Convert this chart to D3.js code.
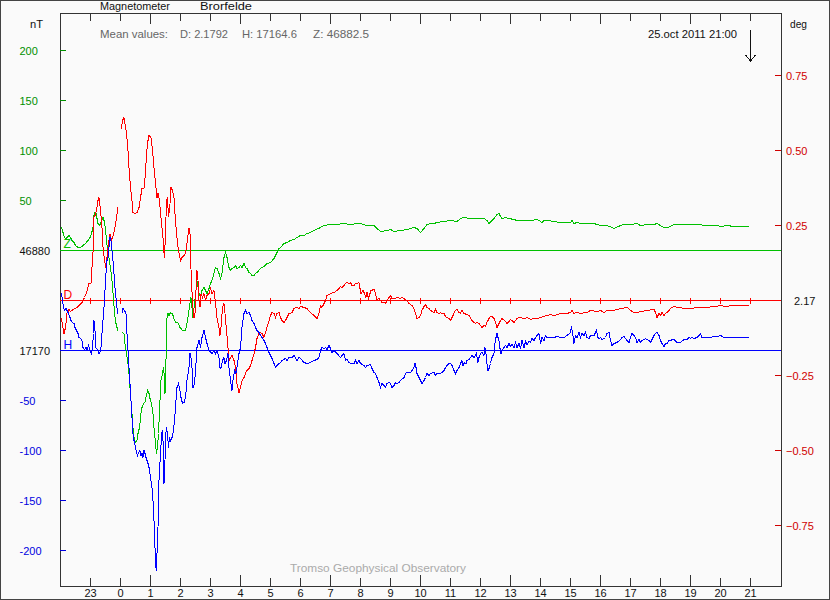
<!DOCTYPE html>
<html><head><meta charset="utf-8">
<script src="https://cdn.jsdelivr.net/npm/d3@7"></script>
<style>
html,body{margin:0;padding:0;background:#fafafa;}
svg{display:block;}
text{font-family:"Liberation Sans",Arial,sans-serif;}
</style></head><body>
<svg id="chart" width="830" height="600"></svg>
<script>
// ---------- data ----------
const station = "Brorfelde";
const instrument = "Magnetometer";
const startTime = Date.UTC(2011, 9, 24, 22, 0);   // 24 Oct 2011 22:00 UT
const endLabel = "25.oct 2011 21:00";
const meanD = "2.1792", meanH = "17164.6", meanZ = "46882.5";
const zBase = 46880, dBase = 2.17, hBase = 17170;
const zTicks = [200, 150, 100, 50];          // nT relative to Z baseline
const hTicks = [-50, -100, -150, -200];      // nT relative to H baseline
const degTicks = [0.75, 0.5, 0.25, -0.25, -0.5, -0.75];
const hourTickLabels = ["23","0","1","2","3","4","5","6","7","8","9","10","11","12","13","14","15","16","17","18","19","20","21"];

// [minutes after start, value]
const declination = [[2,2.110],[7,2.060],[10,2.080],[13,2.127],[17,2.140],[20,2.133],[25,2.140],[30,2.143],[37,2.153],[43,2.163],[48,2.180],[52,2.197],[57,2.227],[61,2.227],[63,2.280],[65,2.330],[67,2.447],[69,2.453],[72,2.470],[75,2.503],[77,2.513],[80,2.470],[83,2.413],[85,2.347],[88,2.303],[91,2.277],[93,2.313],[96,2.360],[99,2.393],[101,2.370],[104,2.380],[108,2.403],[112,2.447],[115,2.480],[118,null],
[122,2.743],[124,2.770],[127,2.780],[129,2.760],[132,2.727],[135,2.670],[137,2.613],[140,2.547],[143,2.503],[145,2.463],[149,2.460],[153,2.463],[157,2.480],[160,2.513],[163,2.543],[167,2.543],[170,2.593],[172,2.660],[175,2.703],[177,2.720],[181,2.713],[184,2.670],[187,2.613],[190,2.560],[193,2.513],[195,2.527],[198,2.503],[200,2.460],[203,2.413],[205,2.380],[207,2.327],[208,2.313],[210,2.393],[212,2.503],[214,2.513],[216,2.447],[219,2.493],[221,2.547],[224,2.537],[227,2.513],[229,2.460],[232,2.393],[235,2.347],[237,2.327],[240,2.303],[243,2.313],[247,2.320],[250,2.327],[253,2.360],[257,2.413],[259,2.393],[260,2.313],[262,2.237],[264,2.160],[267,2.113],[269,2.127],[271,2.203],[273,2.270],[275,2.237],[277,2.170],[279,2.147],[281,2.193],[284,2.180],[287,2.193],[290,2.170],[293,2.187],[297,2.193],[300,2.210],[303,2.193],[307,2.203],[310,2.160],[313,2.113],[317,2.080],[319,2.053],[321,2.080],[324,2.147],[327,2.160],[329,2.127],[332,2.070],[335,2.013],[337,1.970],[340,1.980],[343,1.987],[347,1.970],[350,1.947],[353,1.893],[357,1.863],[360,1.880],[363,1.903],[367,1.913],[370,1.927],[373,1.937],[377,1.943],[380,1.953],[383,1.970],[387,1.993],[390,2.013],[393,2.043],[397,2.060],[400,2.063],[403,2.060],[407,2.047],[410,2.063],[413,2.080],[417,2.103],[420,2.120],[423,2.130],[427,2.127],[430,2.113],[433,2.127],[437,2.130],[440,2.113],[443,2.103],[447,2.097],[450,2.103],[453,2.113],[457,2.127],[460,2.127],[463,2.130],[467,2.143],[470,2.147],[473,2.147],[477,2.143],[480,2.150],[487,2.147],[493,2.143],[500,2.130],[507,2.120],[513,2.110],[517,2.127],[520,2.153],[523,2.147],[527,2.160],[530,2.170],[533,2.187],[540,2.193],[547,2.197],[553,2.203],[557,2.210],[560,2.217],[563,2.213],[567,2.220],[570,2.227],[573,2.230],[577,2.227],[580,2.230],[583,2.220],[587,2.220],[590,2.227],[593,2.227],[597,2.230],[599,2.210],[601,2.193],[605,2.203],[608,2.193],[611,2.180],[613,2.197],[616,2.177],[619,2.193],[621,2.203],[627,2.207],[630,2.193],[633,2.173],[637,2.177],[640,2.170],[643,2.163],[647,2.163],[650,2.160],[657,2.180],[660,2.187],[663,2.177],[670,2.177],[673,2.180],[680,2.177],[683,2.180],[693,2.170],[697,2.160],[703,2.153],[707,2.143],[710,2.127],[713,2.110],[717,2.113],[720,2.120],[723,2.137],[727,2.150],[730,2.157],[733,2.147],[737,2.143],[740,2.137],[747,2.130],[750,2.140],[753,2.130],[757,2.127],[760,2.130],[763,2.127],[767,2.127],[770,2.117],[773,2.113],[777,2.110],[780,2.103],[783,2.113],[787,2.127],[790,2.137],[793,2.140],[797,2.130],[800,2.127],[803,2.137],[807,2.127],[813,2.123],[817,2.120],[820,2.113],[823,2.103],[827,2.097],[830,2.093],[833,2.097],[837,2.093],[840,2.087],[843,2.080],[847,2.087],[850,2.083],[853,2.097],[857,2.110],[860,2.117],[863,2.117],[867,2.110],[870,2.097],[873,2.080],[877,2.093],[880,2.103],[883,2.110],[890,2.100],[893,2.093],[897,2.100],[900,2.107],[907,2.097],[910,2.103],[913,2.110],[917,2.113],[920,2.113],[927,2.110],[933,2.113],[940,2.107],[947,2.110],[953,2.110],[960,2.113],[967,2.117],[973,2.120],[980,2.123],[987,2.120],[993,2.123],[1000,2.127],[1013,2.127],[1020,2.130],[1023,2.137],[1027,2.127],[1033,2.130],[1040,2.127],[1053,2.130],[1060,2.137],[1073,2.133],[1080,2.137],[1087,2.130],[1093,2.137],[1107,2.137],[1113,2.140],[1120,2.143],[1133,2.147],[1140,2.137],[1147,2.130],[1153,2.130],[1160,2.133],[1173,2.137],[1187,2.140],[1190,2.130],[1193,2.113],[1197,2.127],[1200,2.120],[1203,2.130],[1207,2.120],[1210,2.127],[1213,2.130],[1217,2.137],[1220,2.143],[1223,2.147],[1227,2.150],[1233,2.147],[1240,2.147],[1247,2.143],[1260,2.143],[1273,2.147],[1280,2.147],[1293,2.147],[1307,2.150],[1320,2.153],[1333,2.150],[1340,2.153],[1360,2.153],[1377,2.153]];

const horizontal = [[2,17227],[4,17220],[6,17213],[8,17210],[11,17212],[13,17210],[16,17207],[19,17203],[21,17200],[24,17198],[27,17197],[29,17193],[32,17190],[35,17187],[37,17183],[40,17182],[43,17180],[45,17173],[48,17171],[51,17173],[53,17170],[56,17175],[58,17172],[60,17169],[62,17167],[64,17173],[66,17187],[67,17200],[69,17190],[70,17173],[72,17172],[75,17170],[77,17167],[79,17168],[81,17173],[83,17187],[85,17200],[87,17213],[89,17230],[91,17247],[93,17260],[95,17263],[97,17273],[99,17283],[101,17280],[103,17270],[105,17260],[107,17247],[109,17233],[111,17223],[113,17213],[115,17207],[118,null],
[123,17207],[125,17212],[128,17210],[131,17207],[132,17200],[133,17187],[135,17170],[137,17153],[139,17137],[141,17120],[143,17103],[145,17087],[147,17080],[150,17073],[152,17068],[154,17065],[156,17068],[159,17070],[161,17065],[163,17067],[165,17063],[167,17070],[169,17067],[171,17063],[173,17060],[175,17057],[177,17053],[179,17047],[181,17040],[183,17033],[185,17020],[187,17000],[189,16973],[191,16953],[192,16950],[193,16967],[195,16993],[196,17027],[198,17053],[200,17063],[202,17087],[204,17090],[206,17070],[207,17037],[209,17060],[210,17083],[212,17093],[214,17087],[216,17073],[218,17083],[220,17080],[223,17083],[225,17087],[228,17100],[231,17120],[233,17133],[236,17137],[239,17130],[241,17123],[244,17117],[247,17118],[250,17123],[253,17140],[257,17153],[259,17167],[261,17163],[263,17153],[265,17133],[268,17137],[271,17157],[273,17173],[277,17180],[280,17173],[283,17183],[287,17190],[290,17183],[293,17177],[297,17170],[303,17167],[307,17170],[310,17167],[313,17170],[317,17163],[319,17153],[321,17152],[324,17160],[327,17163],[329,17157],[332,17160],[335,17167],[337,17153],[340,17140],[343,17130],[345,17140],[348,17150],[351,17147],[353,17153],[357,17167],[360,17173],[363,17193],[367,17207],[370,17210],[373,17207],[377,17208],[380,17205],[383,17200],[387,17197],[390,17193],[393,17190],[397,17188],[400,17185],[403,17183],[407,17180],[410,17177],[413,17173],[417,17168],[420,17165],[423,17162],[427,17157],[430,17153],[433,17155],[437,17157],[440,17158],[443,17160],[450,17162],[453,17160],[457,17163],[463,17163],[467,17165],[473,17160],[477,17163],[480,17162],[487,17158],[493,17157],[500,17158],[507,17160],[513,17161],[517,17163],[520,17170],[523,17173],[527,17172],[530,17173],[533,17171],[537,17175],[540,17172],[543,17168],[547,17170],[553,17167],[560,17163],[563,17165],[567,17167],[570,17160],[573,17161],[577,17158],[580,17157],[587,17157],[590,17160],[593,17157],[597,17160],[600,17157],[607,17155],[610,17153],[613,17155],[620,17156],[623,17152],[627,17148],[630,17147],[633,17143],[637,17138],[640,17133],[643,17137],[647,17135],[650,17133],[653,17137],[657,17138],[660,17137],[663,17133],[667,17135],[670,17138],[673,17137],[677,17138],[680,17140],[687,17143],[690,17147],[693,17148],[700,17148],[703,17150],[707,17153],[709,17157],[711,17153],[713,17147],[717,17143],[720,17140],[723,17137],[727,17140],[730,17143],[733,17147],[737,17145],[740,17147],[747,17148],[750,17145],[753,17147],[760,17147],[763,17148],[767,17150],[770,17153],[773,17155],[777,17157],[780,17157],[783,17155],[787,17150],[790,17147],[793,17150],[797,17153],[800,17157],[803,17160],[805,17155],[808,17158],[811,17157],[813,17160],[817,17161],[820,17163],[823,17165],[827,17163],[830,17165],[832,17167],[835,17158],[837,17163],[840,17167],[843,17168],[847,17165],[849,17173],[851,17167],[853,17157],[855,17150],[857,17152],[860,17157],[863,17163],[867,17167],[869,17177],[871,17183],[873,17187],[875,17183],[877,17180],[879,17172],[881,17167],[883,17170],[887,17173],[890,17175],[893,17173],[897,17177],[900,17174],[903,17176],[907,17173],[910,17178],[913,17173],[917,17177],[920,17172],[923,17180],[927,17173],[930,17179],[933,17176],[937,17179],[940,17178],[943,17182],[947,17180],[950,17183],[953,17185],[957,17187],[960,17177],[963,17183],[967,17180],[970,17185],[973,17183],[980,17183],[987,17183],[993,17184],[1000,17183],[1007,17183],[1013,17185],[1020,17188],[1022,17194],[1024,17188],[1027,17177],[1030,17185],[1033,17183],[1037,17188],[1040,17183],[1043,17187],[1047,17185],[1050,17188],[1053,17183],[1057,17182],[1060,17185],[1067,17185],[1070,17188],[1072,17190],[1075,17183],[1077,17182],[1080,17183],[1083,17181],[1087,17182],[1090,17183],[1093,17187],[1097,17188],[1100,17180],[1103,17175],[1107,17177],[1113,17178],[1120,17181],[1123,17183],[1127,17184],[1133,17180],[1137,17178],[1140,17183],[1143,17187],[1147,17185],[1150,17183],[1153,17178],[1157,17181],[1160,17178],[1163,17180],[1167,17181],[1170,17182],[1173,17181],[1177,17180],[1180,17178],[1183,17181],[1187,17185],[1190,17187],[1193,17188],[1197,17185],[1200,17180],[1203,17177],[1207,17174],[1210,17177],[1213,17177],[1217,17180],[1227,17181],[1233,17178],[1240,17178],[1247,17181],[1253,17181],[1257,17183],[1260,17182],[1263,17183],[1267,17182],[1273,17183],[1277,17185],[1280,17187],[1283,17183],[1287,17183],[1300,17183],[1307,17184],[1313,17184],[1320,17185],[1327,17183],[1340,17183],[1360,17183],[1377,17183]];

const vertical = [[2,46903],[5,46898],[8,46893],[11,46892],[13,46893],[17,46895],[20,46893],[23,46890],[27,46888],[30,46885],[35,46883],[40,46883],[45,46885],[50,46887],[55,46890],[59,46893],[62,46897],[65,46903],[67,46915],[69,46918],[71,46917],[73,46912],[75,46907],[79,46905],[81,46908],[85,46913],[87,46910],[90,46902],[92,46890],[94,46882],[96,46873],[98,46872],[100,46860],[102,46857],[104,46843],[106,46833],[108,46817],[111,46807],[113,46803],[115,46800],[118,null],
[124,46798],[127,46797],[129,46787],[132,46777],[135,46767],[137,46757],[139,46743],[141,46730],[143,46717],[145,46703],[147,46693],[150,46688],[153,46690],[155,46697],[158,46703],[161,46717],[163,46723],[166,46727],[169,46728],[171,46733],[174,46740],[177,46737],[179,46732],[182,46727],[185,46717],[187,46703],[190,46687],[192,46677],[194,46683],[196,46697],[199,46730],[201,46750],[204,46757],[206,46763],[208,46753],[209,46737],[211,46770],[212,46810],[215,46817],[217,46815],[220,46818],[223,46817],[225,46815],[228,46810],[231,46808],[233,46808],[236,46807],[239,46803],[241,46802],[244,46800],[247,46800],[250,46800],[253,46807],[256,46817],[259,46827],[261,46833],[263,46823],[265,46813],[268,46827],[271,46840],[273,46850],[277,46837],[280,46833],[283,46840],[287,46843],[290,46840],[293,46837],[297,46842],[300,46847],[303,46850],[307,46857],[310,46863],[313,46862],[317,46857],[320,46852],[323,46857],[327,46873],[330,46878],[333,46873],[337,46863],[340,46860],[343,46862],[347,46863],[350,46865],[353,46862],[357,46863],[360,46865],[363,46863],[367,46867],[370,46863],[373,46862],[377,46858],[380,46857],[383,46855],[387,46855],[390,46857],[393,46858],[400,46862],[407,46864],[413,46867],[420,46868],[427,46872],[433,46878],[437,46882],[440,46883],[447,46887],[453,46888],[460,46890],[467,46891],[473,46893],[480,46895],[487,46895],[493,46897],[500,46898],[507,46900],[520,46903],[527,46905],[540,46906],[553,46906],[567,46907],[580,46906],[593,46907],[600,46907],[613,46905],[627,46905],[633,46902],[640,46899],[653,46900],[660,46901],[667,46899],[680,46900],[693,46901],[707,46903],[713,46902],[720,46898],[727,46902],[733,46906],[740,46907],[747,46907],[753,46908],[767,46909],[780,46910],[793,46909],[800,46912],[807,46913],[820,46912],[833,46912],[847,46912],[853,46910],[857,46907],[863,46910],[867,46912],[873,46916],[877,46917],[880,46914],[883,46912],[890,46913],[897,46912],[907,46911],[913,46910],[927,46910],[940,46910],[953,46911],[960,46909],[963,46908],[967,46910],[973,46910],[987,46909],[1000,46908],[1013,46908],[1020,46908],[1023,46910],[1027,46907],[1033,46908],[1040,46907],[1053,46907],[1067,46907],[1073,46906],[1080,46905],[1093,46905],[1103,46903],[1107,46902],[1120,46905],[1127,46906],[1140,46906],[1153,46907],[1160,46905],[1173,46906],[1187,46906],[1193,46907],[1207,46903],[1213,46903],[1220,46904],[1227,46906],[1253,46906],[1280,46906],[1287,46905],[1313,46905],[1320,46904],[1333,46905],[1347,46904],[1377,46904]];

// ---------- drawing ----------
const svg = d3.select("#chart");
const W = 830, H = 600;
const FRAME = "#333";
const GREEN = "#00c000", RED = "#ff0000", BLUE = "#0000ff";
const GREEN_T = "#009000", RED_T = "#d00000", BLUE_T = "#0000e0";
const toDate = m => new Date(startTime + m * 60000);

svg.append("rect").attr("x",0.5).attr("y",0.5).attr("width",W-1).attr("height",H-1)
  .attr("fill","#fafafa").attr("stroke","#444").attr("shape-rendering","crispEdges");

const x = d3.scaleUtc().domain([toDate(0), toDate(1442)]).range([60.5, 781.5]);
// 1 px per nT; Z baseline at row 250, H baseline at row 350
const yZ = d3.scaleLinear().domain([zBase - 300, zBase + 200]).range([550.5, 50.5]);
const yH = d3.scaleLinear().domain([hBase - 200, hBase + 300]).range([550.5, 50.5]);
// declination: 0.25 deg per 75 px around the D baseline
const yDev = d3.scaleLinear().domain([-0.75, 0.75]).range([525.5, 75.5]);
const yD = d3.scaleLinear().domain([dBase - 0.75, dBase + 0.75]).range([525.5, 75.5]);

const hourTicks = x.ticks(d3.utcHour.every(1)).filter(d => d > toDate(0) && d < toDate(1440));
const fmtHour = d3.utcFormat("%-H");

// frame
svg.append("rect").attr("x",60.5).attr("y",13.5).attr("width",721).attr("height",573)
  .attr("fill","none").attr("stroke",FRAME).attr("shape-rendering","crispEdges");

// top & bottom ticks
const longTick = d => (d.getUTCHours() % 3) === 1;
const tg = svg.append("g").attr("stroke",FRAME).attr("shape-rendering","crispEdges");
hourTicks.forEach(d => {
  const px = Math.floor(x(d)) + 0.5;
  const L = longTick(d) ? 11 : 8;
  tg.append("line").attr("x1",px).attr("x2",px).attr("y1",13).attr("y2",13+L);
  tg.append("line").attr("x1",px).attr("x2",px).attr("y1",586).attr("y2",586-L);
});
svg.append("g").selectAll("text").data(hourTicks).join("text")
  .attr("x", d => x(d)).attr("y", 597).attr("text-anchor","middle")
  .attr("font-size",11).attr("fill","#111")
  .text((d,i) => hourTickLabels[i] !== undefined ? hourTickLabels[i] : fmtHour(d));

// baselines
const hline = (yy, c) => svg.append("line").attr("x1",60).attr("x2",781).attr("y1",yy).attr("y2",yy)
  .attr("stroke",c).attr("shape-rendering","crispEdges");
hline(yZ(zBase), GREEN);
hline(yD(dBase), RED);
hline(yH(hBase), BLUE);
// hour marks on D baseline
svg.append("g").attr("stroke",RED).attr("shape-rendering","crispEdges")
  .selectAll("line").data(hourTicks).join("line")
  .attr("x1", d => Math.floor(x(d)) + 0.5).attr("x2", d => Math.floor(x(d)) + 0.5)
  .attr("y1", yD(dBase) - 3).attr("y2", yD(dBase) + 3);

// left axis ticks and labels
const leftTick = (yy, c, label) => {
  svg.append("line").attr("x1",60).attr("x2",66).attr("y1",yy).attr("y2",yy)
    .attr("stroke",c).attr("shape-rendering","crispEdges");
  svg.append("text").attr("x",19.5).attr("y",yy+4).attr("font-size",11).attr("fill",c).text(label);
};
zTicks.forEach(v => leftTick(yZ(zBase + v), GREEN_T, v));
hTicks.forEach(v => leftTick(yH(hBase + v), BLUE_T, v));
svg.append("text").attr("x",19.5).attr("y",yZ(zBase)+4).attr("font-size",11).attr("fill","#111").text(zBase);
svg.append("text").attr("x",19.5).attr("y",yH(hBase)+4).attr("font-size",11).attr("fill","#111").text(hBase);

// right axis
degTicks.forEach(v => {
  svg.append("line").attr("x1",775).attr("x2",781).attr("y1",yDev(v)).attr("y2",yDev(v))
    .attr("stroke",RED_T).attr("shape-rendering","crispEdges");
  svg.append("text").attr("x",786).attr("y",yDev(v)+4).attr("font-size",11)
    .attr("fill",RED_T).text(d3.format(".2f")(v));
});
svg.append("text").attr("x",794).attr("y",yD(dBase)+4).attr("font-size",11).attr("fill","#111").text(dBase.toFixed(2));

// component letters
svg.append("text").attr("x",63.5).attr("y",248).attr("font-size",12).attr("fill",GREEN).text("Z");
svg.append("text").attr("x",63.5).attr("y",298.5).attr("font-size",12).attr("fill",RED).text("D");
svg.append("text").attr("x",63.5).attr("y",348.5).attr("font-size",12).attr("fill",BLUE).text("H");

// traces
const mkLine = ys => d3.line().defined(d => d[1] !== null)
  .x(d => x(toDate(d[0]))).y(d => ys(d[1]));
svg.append("path").datum(vertical).attr("d", mkLine(yZ)).attr("fill","none")
  .attr("stroke",GREEN).attr("stroke-width",1).attr("shape-rendering","crispEdges");
svg.append("path").datum(declination).attr("d", mkLine(yD)).attr("fill","none")
  .attr("stroke",RED).attr("stroke-width",1).attr("shape-rendering","crispEdges");
svg.append("path").datum(horizontal).attr("d", mkLine(yH)).attr("fill","none")
  .attr("stroke",BLUE).attr("stroke-width",1).attr("shape-rendering","crispEdges");

// header texts
const txt = (s, xx, yy, len, fill) => svg.append("text").attr("x",xx).attr("y",yy)
  .attr("font-size",11).attr("fill",fill).attr("textLength",len)
  .attr("lengthAdjust","spacingAndGlyphs").text(s);
txt(instrument, 100, 10, 70, "#111");
txt(station, 200, 10, 52, "#111");
txt("nT", 30, 28, 13, "#111");
txt("deg", 790, 28, 17, "#111");
txt("Mean values:", 100, 38, 68, "#666");
txt("D: " + meanD, 180, 38, 48, "#666");
txt("H: " + meanH, 242, 38, 55, "#666");
txt("Z: " + meanZ, 313, 38, 56, "#666");
txt(endLabel, 648, 38, 89, "#111");
txt("Tromso Geophysical Observatory", 290, 572, 176, "#aaa");

// arrow marking the end time
const ax = Math.floor(x(toDate(1380))) + 0.5;
svg.append("path").attr("d", `M${ax},30V61M${ax-5},55L${ax},61L${ax+5},55`)
  .attr("fill","none").attr("stroke","#111").attr("shape-rendering","crispEdges");
</script>
</body></html>
